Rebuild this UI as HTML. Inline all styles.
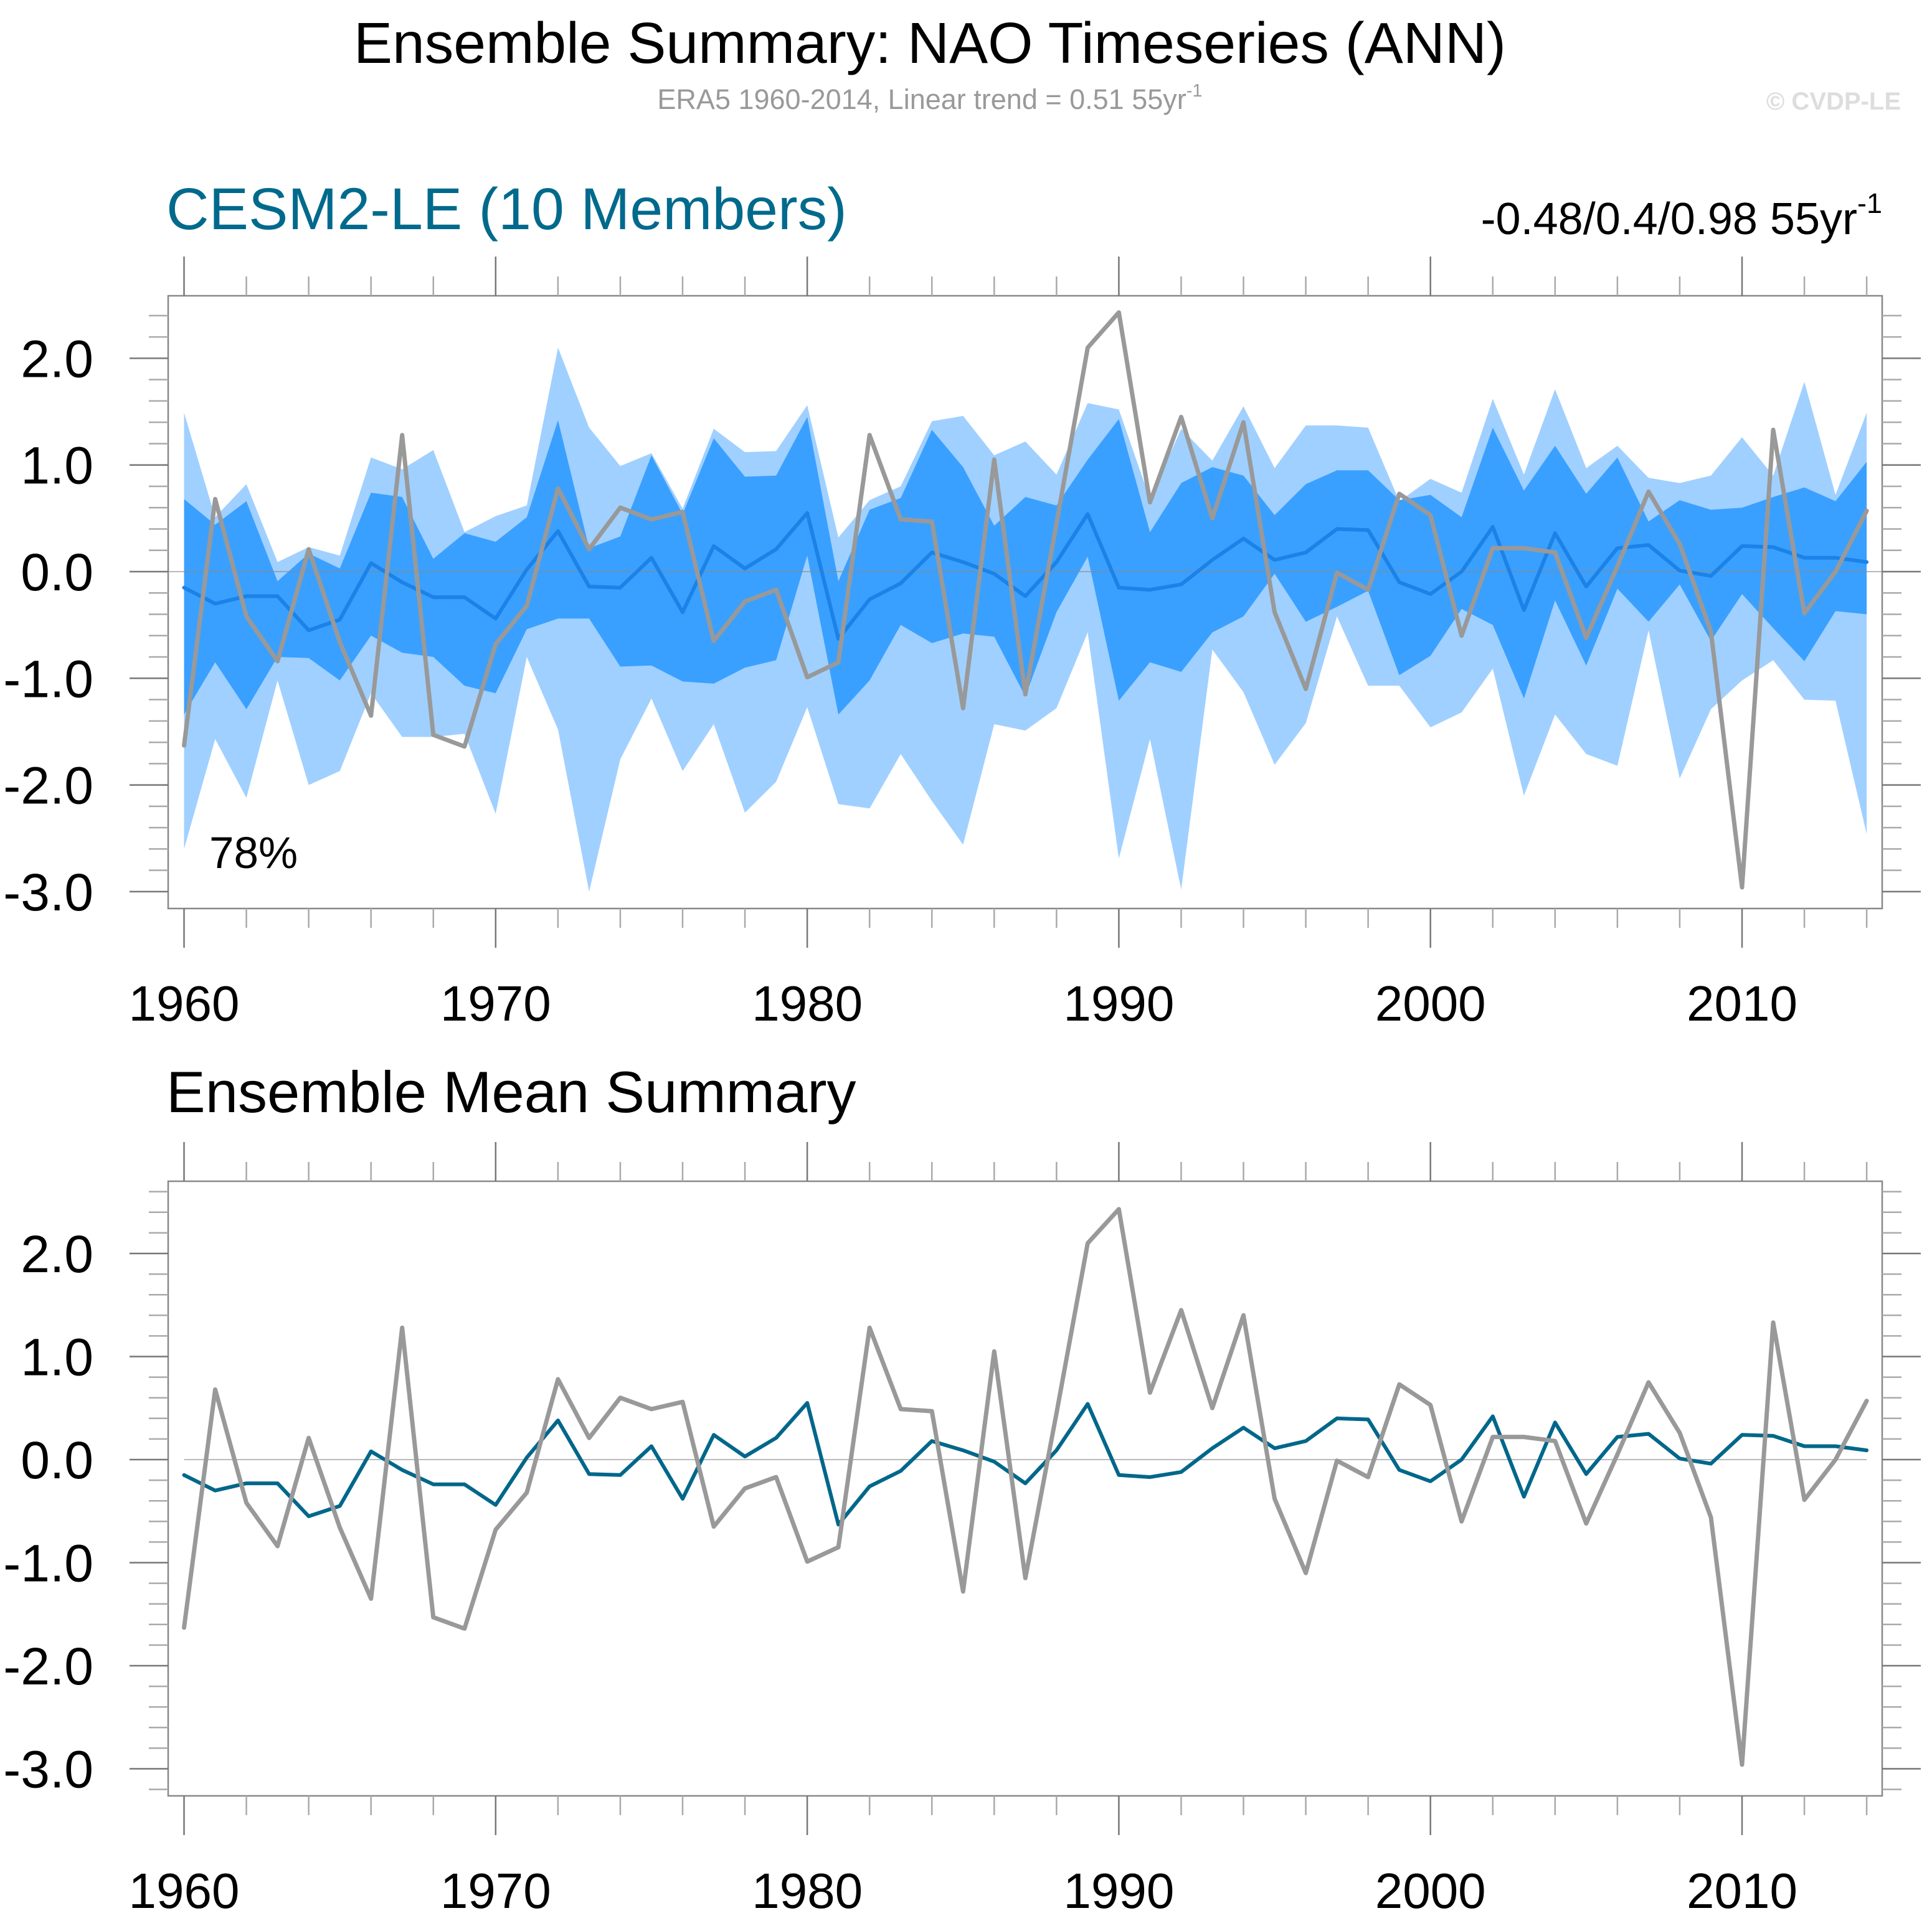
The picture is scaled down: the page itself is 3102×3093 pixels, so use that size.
<!DOCTYPE html>
<html><head><meta charset="utf-8"><style>
html,body{margin:0;padding:0;background:#fff;}
svg{display:block;font-family:"Liberation Sans",Arial,sans-serif;}
</style></head><body>
<svg id="chart" width="3102" height="3093" viewBox="0 0 3102 3093" xmlns="http://www.w3.org/2000/svg">
<text x="1493" y="101" font-size="93" text-anchor="middle" fill="#000">Ensemble Summary: NAO Timeseries (ANN)</text>
<text x="1493" y="175" font-size="45" text-anchor="middle" fill="#999">ERA5 1960-2014, Linear trend = 0.51 55yr<tspan font-size="29" dy="-20">-1</tspan></text>
<text x="3052" y="176" font-size="40" font-weight="bold" text-anchor="end" fill="#ddd">© CVDP-LE</text>
<text x="267" y="368" font-size="95" fill="#006a8c">CESM2-LE (10 Members)</text>
<text x="3022" y="376" font-size="72" text-anchor="end" fill="#000">-0.48/0.4/0.98 55yr<tspan font-size="45" dy="-34">-1</tspan></text>
<text x="267" y="1786" font-size="94" fill="#000">Ensemble Mean Summary</text>
<g id="top"></g>
<g id="bot"></g>
<text x="336" y="1394" font-size="71" fill="#000">78%</text>
</svg>
<script>
const years = [];
for (let y = 1960; y <= 2014; y++) years.push(y);
const obs = [-1.63,0.68,-0.42,-0.84,0.21,-0.66,-1.35,1.28,-1.53,-1.64,-0.68,-0.32,0.78,0.21,0.60,0.49,0.56,-0.65,-0.28,-0.17,-0.99,-0.85,1.28,0.49,0.47,-1.28,1.05,-1.15,0.45,2.10,2.43,0.65,1.45,0.50,1.40,-0.38,-1.10,-0.01,-0.17,0.73,0.53,-0.60,0.22,0.22,0.18,-0.62,0.05,0.75,0.26,-0.56,-2.96,1.33,-0.39,0.0,0.57];
const ensMean = [-0.15,-0.30,-0.23,-0.23,-0.55,-0.45,0.08,-0.10,-0.24,-0.24,-0.44,0.02,0.38,-0.14,-0.15,0.13,-0.38,0.24,0.03,0.21,0.55,-0.63,-0.26,-0.11,0.18,0.09,-0.02,-0.23,0.09,0.54,-0.15,-0.17,-0.12,0.11,0.31,0.11,0.18,0.40,0.39,-0.10,-0.21,0.0,0.42,-0.36,0.36,-0.14,0.22,0.25,0.01,-0.04,0.24,0.23,0.13,0.13,0.09];
const outerMax = [1.49,0.51,0.82,0.09,0.23,0.15,1.07,0.96,1.14,0.37,0.52,0.62,2.10,1.35,0.99,1.11,0.59,1.34,1.12,1.13,1.56,0.32,0.67,0.80,1.41,1.46,1.09,1.22,0.91,1.58,1.52,0.68,1.34,1.04,1.55,0.97,1.37,1.37,1.35,0.66,0.87,0.74,1.62,0.91,1.71,0.97,1.18,0.88,0.83,0.90,1.26,0.90,1.78,0.72,1.49];
const outerMin = [-2.60,-1.57,-2.12,-1.02,-2.00,-1.87,-1.14,-1.55,-1.55,-1.52,-2.27,-0.80,-1.48,-3.00,-1.76,-1.19,-1.87,-1.43,-2.26,-1.97,-1.27,-2.18,-2.22,-1.71,-2.15,-2.56,-1.43,-1.49,-1.28,-0.57,-2.69,-1.57,-2.98,-0.73,-1.13,-1.81,-1.42,-0.42,-1.07,-1.07,-1.46,-1.32,-0.91,-2.10,-1.34,-1.71,-1.82,-0.55,-1.94,-1.29,-1.02,-0.83,-1.20,-1.21,-2.46];
const innerMax = [0.68,0.44,0.66,-0.09,0.17,0.03,0.74,0.70,0.12,0.36,0.28,0.51,1.42,0.22,0.33,1.09,0.54,1.25,0.89,0.90,1.45,-0.09,0.58,0.69,1.33,0.98,0.43,0.70,0.62,1.05,1.43,0.37,0.83,0.98,0.90,0.53,0.82,0.95,0.95,0.67,0.72,0.51,1.35,0.76,1.18,0.73,1.07,0.47,0.67,0.58,0.60,0.70,0.79,0.66,1.03];
const innerMin = [-1.34,-0.85,-1.29,-0.80,-0.81,-1.02,-0.60,-0.76,-0.80,-1.07,-1.14,-0.54,-0.44,-0.44,-0.89,-0.88,-1.03,-1.05,-0.90,-0.83,0.15,-1.34,-1.02,-0.50,-0.67,-0.58,-0.61,-1.17,-0.38,0.14,-1.21,-0.85,-0.94,-0.57,-0.42,-0.02,-0.47,-0.33,-0.18,-0.97,-0.79,-0.35,-0.50,-1.19,-0.27,-0.88,-0.16,-0.47,-0.12,-0.65,-0.21,-0.53,-0.84,-0.37,-0.40];
const yTickLabels = ["2.0","1.0","0.0","-1.0","-2.0","-3.0"];
const yTickValues = [2,1,0,-1,-2,-3];
const xTickLabels = ["1960","1970","1980","1990","2000","2010"];

const NS = "http://www.w3.org/2000/svg";
function mk(parent, tag, attrs) {
  const e = document.createElementNS(NS, tag);
  for (const k in attrs) e.setAttribute(k, attrs[k]);
  parent.appendChild(e);
  return e;
}
const X0 = 295.5, XSTEP = 50.03, LEFT = 270, RIGHT = 3022;
const xs = yr => X0 + (yr - 1960) * XSTEP;

function panel(g, top, bottom, y0, unit, isTop) {
  const ys = v => y0 - v * unit;
  const pts = (arr) => arr.map((v, i) => xs(years[i]).toFixed(1) + "," + ys(v).toFixed(1));
  if (isTop) {
    const outer = mk(g, "polygon", {points: pts(outerMax).concat(pts(outerMin).reverse()).join(" "), fill: "#a0d0ff"});
    
    
    const inner = mk(g, "polygon", {points: pts(innerMax).concat(pts(innerMin).reverse()).join(" "), fill: "#3aa0ff"});
    
    
  }
  const zl = mk(g, "line", {x1: isTop ? LEFT : xs(1960), x2: isTop ? RIGHT : xs(2014), y1: ys(0), y2: ys(0), stroke: isTop ? "#888" : "#bbb", "stroke-width": 2, "stroke-opacity": isTop ? 0.6 : 1});
  
  
  const meanLine = mk(g, "polyline", {points: pts(ensMean).join(" "), fill: "none", stroke: isTop ? "#1b82e8" : "#00678a", "stroke-width": 6, "stroke-linejoin": "round", "stroke-linecap": "round"});
  
  
  const obsLine = mk(g, "polyline", {points: pts(obs).join(" "), fill: "none", stroke: "#999", "stroke-width": 7, "stroke-linejoin": "round", "stroke-linecap": "round"});
  
  
  const frame = mk(g, "rect", {x: LEFT, y: top, width: RIGHT - LEFT, height: bottom - top, fill: "none", stroke: "#888", "stroke-width": 2.5});
  
  
  const vTop = (y0 - top) / unit, vBot = (y0 - bottom) / unit;
  for (let k = -40; k <= 40; k++) {
    const v = k / 5;
    if (v > vTop || v < vBot) continue;
    const major = k % 5 === 0;
    const L = major ? 62 : 31;
    const y = ys(v);
    const t1 = mk(g, "line", {x1: LEFT - L, x2: LEFT, y1: y, y2: y, stroke: major ? "#777" : "#aaa", "stroke-width": 2.5});
    
    
    const t2 = mk(g, "line", {x1: RIGHT, x2: RIGHT + L, y1: y, y2: y, stroke: major ? "#777" : "#aaa", "stroke-width": 2.5});
    
    
  }
  yTickValues.forEach((v, i) => {
    const t = mk(g, "text", {x: 150, y: ys(v) + 30, "font-size": 84, "text-anchor": "end", fill: "#000"});
    t.textContent = yTickLabels[i];
    
    
  });
  for (let yr = 1960; yr <= 2014; yr += 2) {
    const major = (yr % 10 === 0);
    const L = major ? 63 : 31;
    const x = xs(yr);
    const a = mk(g, "line", {x1: x, x2: x, y1: top - L, y2: top, stroke: major ? "#777" : "#aaa", "stroke-width": 2.5});
    
    
    const b = mk(g, "line", {x1: x, x2: x, y1: bottom, y2: bottom + L, stroke: major ? "#777" : "#aaa", "stroke-width": 2.5});
    
    
  }
  xTickLabels.forEach(lbl => {
    const t = mk(g, "text", {x: xs(+lbl), y: bottom + 180, "font-size": 80, "text-anchor": "middle", fill: "#000"});
    t.textContent = lbl;
    
    
  });
}
const gt = document.getElementById("top");


panel(gt, 475, 1459, 918, 171.3, true);
const gb = document.getElementById("bot");


panel(gb, 1897, 2884, 2344, 165.5, false);
</script>
</body></html>
